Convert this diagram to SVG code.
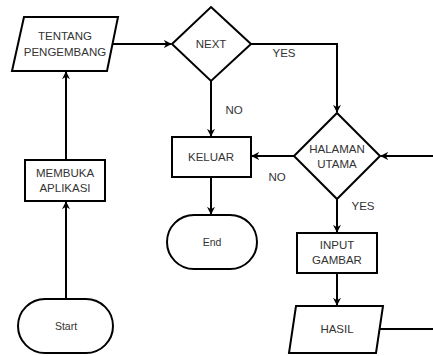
<svg xmlns="http://www.w3.org/2000/svg" width="433" height="356" viewBox="0 0 433 356">
<defs>
<marker id="arr" viewBox="0 0 10 10" refX="9" refY="5" markerWidth="8" markerHeight="8" markerUnits="userSpaceOnUse" orient="auto">
<path d="M0,0 L10,5 L0,10 L3,5 Z" fill="#000"/>
</marker>
</defs>
<style>
.s{fill:#fff;stroke:#000;stroke-width:2}
.t{font-family:"Liberation Sans",Arial,sans-serif;font-size:11.5px;fill:#333;text-anchor:middle;dominant-baseline:central}
.ts{font-size:10.5px}
.c{fill:none;stroke:#000;stroke-width:2}
</style>
<rect width="433" height="356" fill="#fff"/>
<g id="connectors">
<path class="c" d="M66,299 L66,202" marker-end="url(#arr)"/>
<path class="c" d="M66,160 L66,72" marker-end="url(#arr)"/>
<path class="c" d="M113,44 L171,44" marker-end="url(#arr)"/>
<path class="c" d="M251,44 L337,44 L337,112" marker-end="url(#arr)"/>
<path class="c" d="M211,81 L211,136" marker-end="url(#arr)"/>
<path class="c" d="M294,156 L252,156" marker-end="url(#arr)"/>
<path class="c" d="M433,156 L381,156" marker-end="url(#arr)"/>
<path class="c" d="M211,177 L211,214" marker-end="url(#arr)"/>
<path class="c" d="M337,199 L337,232" marker-end="url(#arr)"/>
<path class="c" d="M337,273 L337,305" marker-end="url(#arr)"/>
<path class="c" d="M380,329 L433,329"/>
<text class="t" x="284" y="53">YES</text>
<text class="t" x="234" y="110">NO</text>
<text class="t" x="277" y="177">NO</text>
<text class="t" x="363" y="206">YES</text>
</g>
<g id="tentang">
<polygon class="s" points="24,17 118,17 107,71 12,71"/>
<text class="t" x="65" y="36">TENTANG</text>
<text class="t" x="65" y="52">PENGEMBANG</text>
</g>
<g id="next">
<polygon class="s" points="211,7 251,44 211,81 172,44"/>
<text class="t" x="211" y="44">NEXT</text>
</g>
<g id="halaman">
<polygon class="s" points="337,113 380,156 337,199 294,156"/>
<text class="t" x="337" y="149">HALAMAN</text>
<text class="t" x="337" y="164">UTAMA</text>
</g>
<g id="keluar">
<rect class="s" x="172" y="137" width="79" height="40"/>
<text class="t" x="211" y="157">KELUAR</text>
</g>
<g id="end">
<rect class="s" x="167" y="215" width="90" height="54" rx="27" ry="27"/>
<text class="t ts" x="212" y="242">End</text>
</g>
<g id="membuka">
<rect class="s" x="25" y="160" width="80" height="41"/>
<text class="t" x="65" y="173">MEMBUKA</text>
<text class="t" x="65" y="188">APLIKASI</text>
</g>
<g id="start">
<rect class="s" x="18" y="299" width="95" height="54" rx="27" ry="27"/>
<text class="t ts" x="66" y="326">Start</text>
</g>
<g id="input">
<rect class="s" x="297" y="233" width="80" height="40"/>
<text class="t" x="337" y="245">INPUT</text>
<text class="t" x="337" y="260">GAMBAR</text>
</g>
<g id="hasil">
<polygon class="s" points="296,306 383,306 376,353 289,353"/>
<text class="t" x="337" y="329">HASIL</text>
</g>
</svg>
